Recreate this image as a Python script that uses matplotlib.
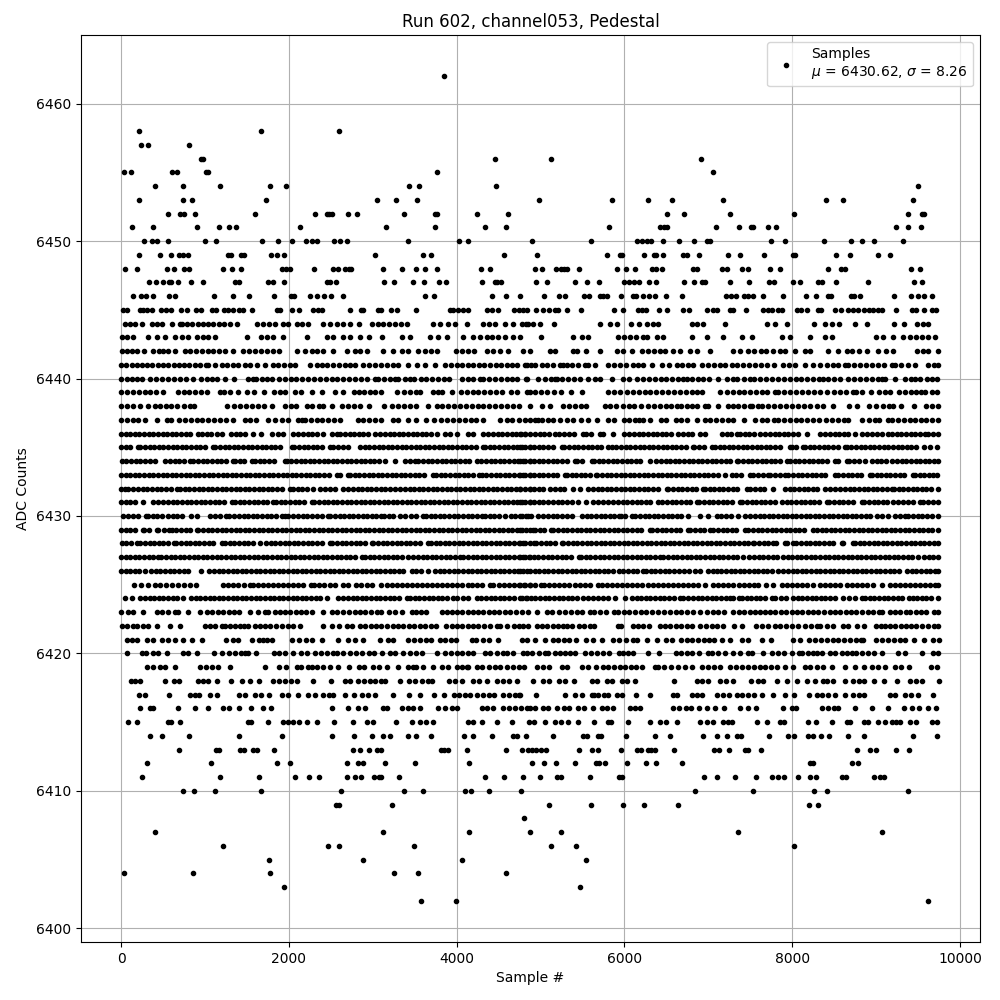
import matplotlib
matplotlib.use('Agg')
import matplotlib.pyplot as plt

# Sample numbers, one list per ADC level
s6402 = [3580, 3997, 9623]
s6403 = [1947, 5475]
s6404 = [40, 862, 1780, 3258, 3544, 4593]
s6405 = [1768, 2889, 4069, 5547]
s6406 = [1220, 2472, 2603, 3497, 5129, 5427, 8026]
s6407 = [410, 3127, 4152, 4879, 5249, 7359, 9075]
s6408 = [4808]
s6409 = [2567, 2603, 3234, 5106, 5606, 5988, 6238, 6643, 8204, 8312]
s6410 = [743, 874, 1125, 1673, 2627, 3377, 3604, 4104, 4176, 4390, 4768, 6846, 7537, 8264, 8419, 9385]
s6411 = [255, 1184, 1649, 2078, 2245, 2364, 2698, 2793, 2865, 3020, 3079, 3103, 3318, 4343, 4569, 4788, 4998, 5201,
         5249, 5594, 5940, 5976, 6953, 7108, 7323, 7573, 7764, 7835, 7907, 8074, 8216, 8288, 8598, 8646, 8979, 9051, 9099]
s6412 = [314, 1077, 1864, 2019, 2698, 2829, 2889, 3151, 3508, 4152, 4903, 5046, 5189, 5415, 5666, 5702, 5773, 6035,
         6262, 6381, 6691, 8216, 8252, 8717, 8789]
s6413 = [696, 1137, 1172, 1423, 1470, 1578, 1625, 1828, 2769, 2853, 2960, 3056, 3103, 3818, 3854, 3902, 4128, 4593,
         4776, 4855, 4903, 4951, 5010, 5070, 5463, 5618, 5690, 5964, 6154, 6202, 6286, 6321, 6369, 6596, 7072, 7128,
         7251, 7442, 7477, 7632, 8777, 8932, 9003, 9241, 9396]
s6414 = [350, 493, 815, 1411, 1923, 2519, 2781, 2996, 3127, 3210, 3425, 3520, 3699, 4092, 4200, 4426, 4676, 4724,
         4831, 5153, 5511, 5559, 5690, 5725, 6023, 6369, 6548, 6941, 7108, 7227, 7347, 7394, 7728, 7955, 8026, 8193,
         8252, 8348, 8443, 8670, 8860, 9444, 9730]
s6415 = [88, 195, 564, 592, 708, 1518, 1554, 1756, 1935, 1995, 2054, 2126, 2221, 2340, 2543, 2769, 2936, 3008, 3282,
         3473, 3568, 3640, 3723, 4140, 4200, 4307, 4486, 4665, 4867, 4927, 5058, 5177, 5249, 5332, 5451, 5642, 5809,
         5845, 6047, 6309, 6429, 6500, 6631, 6905, 6989, 7060, 7180, 7239, 7287, 7585, 7704, 7859, 7907, 8193, 8288,
         8479, 8657, 8693, 8860, 8908, 9027, 9110, 9194, 9241, 9289, 9408, 9480, 9670, 9730]
s6416 = [231, 346, 386, 684, 886, 1040, 1220, 1290, 1411, 1554, 1689, 1792, 2519, 2710, 2829, 2913, 3127, 3175,
         3345, 3415, 3485, 3564, 3783, 3860, 3940, 4000, 4299, 4359, 4438, 4558, 4628, 4698, 4768, 4838, 4875, 4939,
         5034, 5094, 5193, 5285, 5345, 5451, 5521, 5630, 5737, 5797, 5860, 6067, 6126, 6186, 6584, 6655, 6735,
         6790, 6893, 6981, 7080, 7190, 7378, 7477, 7573, 7895, 7994, 8041, 8352, 8430, 8500, 8550, 8753, 8956,
         9146, 9337, 9425, 9515, 9623, 9715]
s6417 = [219, 290, 576, 823, 880, 934, 1061, 1141, 1411, 1480, 1597, 1673, 1768, 1923, 1985, 2114, 2233, 2312, 2412,
         2480, 2531, 2674, 2781, 2869, 2940, 3028, 3246, 3437, 3568, 3735, 3854, 3963, 4030, 4100, 4165, 4240, 4319,
         4390, 4446, 4557, 4620, 4690, 4738, 4756, 4951, 5296, 5412, 5490, 5610, 5640, 5690, 5760, 5810, 5908, 5968,
         6143, 6310, 6583, 6631, 6802, 6860, 6929, 7100, 7172, 7250, 7338, 7398, 7470, 7550, 7636, 7775, 7908, 8026,
         8204, 8292, 8360, 8430, 8510, 8634, 8729, 8800, 8850, 9166, 9226, 9345, 9416, 9504, 9680]
s6418 = [115, 170, 225, 525, 632, 695, 922, 980, 1041, 1141, 1307, 1446, 1538, 1649, 1816, 1880, 1950, 2020, 2094,
         2293, 2499, 2670, 2730, 2829, 2900, 2970, 3030, 3100, 3147, 3326, 3437, 3504, 3584, 3660, 3703, 3905, 3975,
         4061, 4200, 4270, 4359, 4479, 4550, 4625, 4716, 4907, 5034, 5106, 5225, 5295, 5400, 5610, 5675, 5790, 5849,
         5968, 6027, 6123, 6596, 6870, 6930, 7000, 7140, 7210, 7291, 7505, 7590, 7656, 7823, 7934, 8062, 8173, 8272,
         8372, 8411, 8491, 8630, 8730, 8800, 8850, 8975, 9098, 9246, 9405, 9470, 9550, 9745]
s6419 = [306, 386, 465, 520, 644, 942, 1010, 1080, 1150, 1300, 1717, 1888, 1967, 2094, 2150, 2233, 2273, 2340, 2410,
         2491, 2591, 2722, 2841, 2900, 3000, 3070, 3175, 3306, 3415, 3480, 3510, 3604, 3723, 3820, 3900,
         4000, 4060, 4120, 4140, 4240, 4300, 4390, 4458, 4520, 4600, 4670, 4740, 4800, 4955, 5030, 5100, 5252,
         5312, 5491, 5571, 5662, 5741, 5809, 5880, 5950, 6010, 6080, 6140, 6206, 6366, 6400, 6470, 6552, 6643, 6720,
         6802, 6921, 7000, 7070, 7140, 7260, 7330, 7400, 7470, 7540, 7610, 7680, 7750, 7815, 7914, 8006, 8153, 8212,
         8296, 8364, 8471, 8630, 8749, 8860, 8950, 9027, 9106, 9226, 9300, 9390, 9650, 9728]
s6420 = [76, 247, 298, 385, 445, 545, 743, 800, 902, 1113, 1208, 1292, 1360, 1430, 1478, 1518, 1606, 1824, 1888, 1955,
         2054, 2150, 2213, 2312, 2380, 2452, 2523, 2579, 2650, 2730, 2801, 2869, 2950, 3020, 3106, 3200, 3270, 3355,
         3445, 3520, 3584, 3763, 3863, 3930, 4000, 4070, 4140, 4200, 4340, 4400, 4479, 4550, 4600, 4670, 4796,
         4835, 4895, 4985, 5054, 5094, 5173, 5233, 5293, 5355, 5412, 5531, 5600, 5670, 5750, 5820, 5940,
         5988, 6047, 6107, 6282, 6417, 6615, 6680, 6743, 6802, 6893, 6993, 7040, 7120, 7200, 7300, 7380, 7470,
         7518, 7656, 7755, 7830, 7900, 8000, 8078, 8116, 8190, 8252, 8300, 8360, 8450, 8510, 8590, 8650, 8710, 8760,
         8830, 8905, 8980, 9070, 9266, 9345, 9545, 9683, 9740]
s6421 = [68, 130, 187, 306, 385, 485, 564, 644, 743, 842, 962, 1252, 1330, 1397, 1558, 1640, 1697, 1737, 1796, 2035,
         2122, 2200, 2273, 2392, 2591, 2710, 2789, 2889, 3088, 3187, 3246, 3425, 3495, 3565, 3640, 3700, 3800, 3860,
         3930, 3993, 4180, 4230, 4319, 4389, 4488, 4775, 4835, 4930, 5054, 5145, 5210, 5275, 5340, 5424, 5543,
         5620, 5730, 5868, 5940, 6020, 6107, 6154, 6266, 6393, 6500, 6564, 6671, 6740, 6810, 6880, 6950, 7010, 7070,
         7160, 7259, 7398, 7478, 7645, 7743, 8006, 8094, 8205, 8270, 8340, 8410, 8480, 8550, 8620, 8690, 8760, 8820,
         8849, 8999, 9070, 9140, 9210, 9290, 9350, 9455, 9575, 9683, 9745]
s6422 = [8, 70, 147, 187, 260, 325, 425, 584, 703, 1001, 1061, 1121, 1200, 1240, 1300, 1360, 1420,
         1468, 1518, 1598, 1660, 1720, 1780, 1850, 1920, 1990, 2050, 2134, 2404, 2511, 2603, 2690, 2750, 2849, 2910,
         2980, 3040, 3100, 3170, 3240, 3300, 3360, 3430, 3490, 3560, 3620, 3690, 3750, 3874, 3950, 4010, 4070,
         4140, 4200, 4260, 4330, 4400, 4480, 4514, 4606, 4680, 4740, 4790, 4855, 4955, 5015, 5080,
         5145, 5210, 5265, 5320, 5380, 5462, 5520, 5590, 5640, 5920, 5960, 6100, 6166, 6224, 6290, 6425, 6480, 6540,
         6610, 6670, 6740, 6810, 6901, 6970, 7040, 7100, 7180, 7311, 7404, 7570, 7640, 7710, 7790, 7860, 7930, 8000,
         8070, 8150, 8220, 8290, 8332, 8419, 8491, 8610, 8670, 8770, 8850, 9000, 9060, 9110, 9170, 9230, 9300,
         9360, 9420, 9480, 9550, 9620, 9690, 9740]
s6423 = [0, 88, 147, 267, 426, 485, 564, 644, 684, 803, 942, 1020, 1090, 1150, 1220, 1290, 1350, 1408, 1538, 1630,
         1715, 1757, 1830, 1890, 1950, 2010, 2080, 2140, 2200, 2280, 2410, 2520, 2580, 2650, 2720, 2790, 2850, 2910,
         2980, 3050, 3100, 3190, 3266, 3345, 3465, 3520, 3580, 3640, 3824, 3890, 3950, 4010, 4070, 4130, 4200, 4260,
         4320, 4385, 4450, 4510, 4580, 4640, 4710, 4780, 4850, 4960, 5074, 5140, 5215, 5290, 5360,
         5430, 5500, 5590, 5640, 5710, 5780, 5880, 5920, 5990, 6060, 6130, 6200, 6260, 6330, 6400, 6470, 6540, 6610,
         6680, 6750, 6820, 6900, 6990, 7060, 7120, 7190, 7299, 7360, 7430, 7500, 7560, 7620, 7680, 7740, 7800, 7870,
         7930, 7995, 8060, 8120, 8190, 8250, 8310, 8380, 8450, 8510, 8570, 8640, 8700, 8760, 8830, 8900, 8960, 9030,
         9070, 9165, 9220, 9290, 9360, 9400, 9476, 9540, 9600, 9690, 9740]
s6424 = [48, 135, 227, 285, 340, 395, 450, 505, 560, 615, 670, 743, 835, 890, 945, 1000, 1055, 1110, 1165, 1220, 1275,
         1330, 1385, 1440, 1495, 1550, 1605, 1660, 1715, 1770, 1825, 1880, 1935, 1990, 2045, 2100, 2155, 2210, 2265,
         2320, 2375, 2452, 2591, 2650, 2705, 2760, 2815, 2870, 2925, 2980, 3035, 3090, 3145, 3200, 3255, 3310, 3405,
         3445, 3500, 3555, 3610, 3665, 3720, 3775, 3830, 3885, 3961, 4009, 4075, 4140, 4240, 4295, 4350, 4405, 4460,
         4515, 4570, 4625, 4680, 4776, 4835, 4756, 4828, 4885, 4940, 4995, 5050, 5105, 5160, 5215, 5270, 5325, 5380,
         5435, 5511, 5570, 5630, 5690, 5750, 5809, 5888, 6007, 6087, 6145, 6200, 6255, 6310, 6365, 6420, 6475, 6530,
         6585, 6663, 6703, 6762, 6820, 6875, 6930, 6985, 7040, 7095, 7150, 7205, 7259, 7299, 7370, 7398, 7455, 7510,
         7565, 7620, 7675, 7756, 7795, 7863, 7930, 8014, 8065, 8120, 8175, 8230, 8285, 8340, 8395, 8450, 8505, 8610,
         8681, 8750, 8828, 8868, 8925, 8980, 9035, 9090, 9145, 9200, 9255, 9310, 9396, 9436, 9490, 9545, 9600, 9655,
         9740]
s6425 = [159, 240, 318, 405, 470, 535, 604, 684, 750, 823, 894, 1220, 1280, 1340, 1400, 1460, 1538, 1570, 1630, 1690,
         1750, 1810, 1870, 1930, 1990, 2050, 2110, 2170, 2261, 2305, 2365, 2425, 2485, 2545, 2650, 2710, 2801, 2860,
         2928, 2988, 3095, 3167, 3225, 3285, 3345, 3405, 3465, 3525, 3585, 3645, 3705, 3765, 3825, 3885, 3945, 4005,
         4065, 4140, 4180, 4240, 4300, 4398, 4438, 4500, 4560, 4620, 4680, 4740, 4800, 4875, 4756, 4820, 4880, 4940,
         5002, 5046, 5105, 5165, 5225, 5285, 5345, 5405, 5465, 5525, 5585, 5682, 5737, 5795, 5855, 5915, 5975, 6035,
         6095, 6155, 6215, 6275, 6335, 6395, 6455, 6515, 6575, 6635, 6695, 6755, 6815, 6875, 6961, 7060, 7120, 7180,
         7240, 7300, 7360, 7420, 7480, 7540, 7589, 7688, 7775, 7875, 7935, 7994, 8054, 8115, 8175, 8252, 8332, 8391,
         8450, 8510, 8570, 8657, 8717, 8775, 8835, 8895, 8959, 9067, 9166, 9225, 9285, 9345, 9405, 9465, 9525, 9583,
         9643, 9700, 9740]
s6426 = [0, 55, 110, 165, 220, 286, 358, 415, 470, 525, 580, 635, 690, 745, 803, 950, 1053, 1110, 1165, 1220, 1275,
         1330, 1385, 1440, 1495, 1550, 1605, 1660, 1715, 1770, 1825, 1880, 1935, 1990, 2045, 2100, 2155, 2210, 2265,
         2320, 2375, 2430, 2485, 2540, 2595, 2650, 2705, 2760, 2815, 2870, 2925, 2980, 3035, 3090, 3145, 3200, 3255,
         3310, 3365, 3465, 3516, 3580, 3663, 3743, 3800, 3855, 3910, 3965, 4020, 4075, 4130, 4185, 4240, 4295, 4350,
         4405, 4460, 4515, 4570, 4625, 4680, 4735, 4790, 4875, 4756, 4843, 4930, 4985, 5040, 5095, 5150, 5205, 5260,
         5315, 5370, 5425, 5480, 5535, 5590, 5645, 5700, 5755, 5810, 5865, 5940, 5988, 6045, 6100, 6155, 6226, 6258,
         6315, 6370, 6425, 6480, 6535, 6590, 6645, 6711, 6770, 6842, 6900, 6993, 7052, 7100, 7155, 7210, 7265, 7320,
         7375, 7430, 7485, 7540, 7595, 7650, 7705, 7760, 7827, 7895, 7950, 8005, 8060, 8115, 8170, 8225, 8280, 8335,
         8390, 8445, 8500, 8555, 8610, 8665, 8720, 8775, 8830, 8885, 8940, 8995, 9050, 9105, 9160, 9215, 9270, 9365,
         9424, 9480, 9535, 9590, 9645, 9700, 9740]
s6427 = [0, 55, 110, 165, 220, 275, 330, 385, 445, 477, 535, 590, 645, 700, 755, 810, 865, 920, 975, 1030, 1085, 1140,
         1195, 1250, 1305, 1360, 1415, 1470, 1525, 1580, 1635, 1690, 1745, 1800, 1855, 1910, 1965, 2020, 2075, 2130,
         2185, 2240, 2295, 2350, 2405, 2460, 2515, 2570, 2625, 2680, 2735, 2790, 2869, 2909, 2965, 3020, 3075, 3130,
         3185, 3240, 3295, 3350, 3425, 3485, 3540, 3595, 3650, 3705, 3760, 3815, 3870, 3925, 3980, 4041, 4081, 4135,
         4190, 4245, 4300, 4355, 4410, 4465, 4520, 4575, 4630, 4685, 4740, 4795, 4875, 4756, 4810, 4865, 4920, 4975,
         5030, 5085, 5140, 5195, 5250, 5305, 5360, 5463, 5483, 5540, 5595, 5650, 5705, 5760, 5815, 5870, 5925, 5980,
         6035, 6090, 6145, 6200, 6255, 6310, 6365, 6425, 6464, 6520, 6575, 6630, 6685, 6740, 6795, 6850, 6905, 6960,
         7015, 7070, 7125, 7180, 7235, 7290, 7345, 7418, 7489, 7545, 7600, 7655, 7710, 7765, 7820, 7895, 7946, 8000,
         8055, 8110, 8165, 8220, 8275, 8330, 8385, 8440, 8495, 8550, 8605, 8660, 8715, 8770, 8825, 8880, 8935, 8990,
         9045, 9100, 9155, 9210, 9265, 9320, 9375, 9430, 9504, 9571, 9625, 9680, 9740]
s6428 = [8, 65, 120, 187, 227, 285, 340, 395, 450, 505, 560, 632, 656, 715, 770, 825, 880, 934, 990, 1045, 1100, 1200,
         1240, 1295, 1350, 1405, 1460, 1515, 1570, 1657, 1729, 1785, 1840, 1895, 1950, 2005, 2060, 2115, 2170, 2225,
         2280, 2335, 2390, 2491, 2519, 2575, 2630, 2685, 2740, 2795, 2850, 2905, 2988, 3008, 3065, 3120, 3175, 3230,
         3285, 3340, 3395, 3450, 3505, 3560, 3663, 3695, 3750, 3805, 3860, 3915, 3970, 4025, 4080, 4135, 4190, 4245,
         4300, 4355, 4410, 4465, 4520, 4575, 4630, 4685, 4740, 4795, 4875, 4756, 4815, 4923, 4947, 5005, 5060, 5115,
         5170, 5253, 5272, 5330, 5385, 5440, 5495, 5550, 5605, 5660, 5715, 5770, 5825, 5880, 5935, 5990, 6045, 6100,
         6155, 6210, 6265, 6320, 6375, 6430, 6485, 6540, 6595, 6650, 6705, 6760, 6815, 6870, 6925, 6980, 7035, 7090,
         7145, 7200, 7255, 7310, 7365, 7420, 7475, 7537, 7549, 7605, 7660, 7715, 7775, 7807, 7915, 7934, 8014, 8046,
         8105, 8160, 8215, 8270, 8325, 8380, 8435, 8490, 8590, 8610, 8721, 8749, 8805, 8860, 8915, 8970, 9025, 9080,
         9135, 9190, 9245, 9300, 9355, 9410, 9465, 9520, 9575, 9630, 9685, 9740]
s6429 = [0, 55, 110, 165, 259, 278, 335, 425, 445, 510, 576, 604, 660, 715, 770, 825, 902, 922, 980, 1035, 1090, 1145,
         1200, 1255, 1310, 1365, 1420, 1475, 1530, 1585, 1640, 1695, 1750, 1805, 1860, 1915, 1970, 2025, 2080, 2135,
         2190, 2245, 2300, 2355, 2410, 2465, 2520, 2575, 2630, 2685, 2740, 2795, 2850, 2905, 2960, 3015, 3070, 3125,
         3180, 3235, 3290, 3345, 3400, 3455, 3510, 3565, 3620, 3675, 3730, 3785, 3840, 3895, 3950, 4005, 4060, 4115,
         4170, 4225, 4280, 4335, 4390, 4445, 4500, 4555, 4610, 4665, 4720, 4775, 4875, 4756, 4830, 4915, 4935, 4990,
         5045, 5121, 5153, 5210, 5265, 5320, 5375, 5430, 5485, 5540, 5595, 5650, 5705, 5760, 5815, 5870, 5925, 5980,
         6035, 6090, 6145, 6200, 6305, 6333, 6390, 6445, 6500, 6555, 6610, 6665, 6762, 6782, 6840, 6895, 6950, 7021,
         7060, 7115, 7170, 7225, 7280, 7335, 7438, 7477, 7535, 7590, 7645, 7700, 7755, 7810, 7865, 7920, 7975, 8030,
         8085, 8140, 8252, 8292, 8350, 8405, 8460, 8515, 8570, 8625, 8680, 8735, 8790, 8845, 8900, 8955, 9010, 9065,
         9120, 9175, 9230, 9285, 9340, 9395, 9450, 9505, 9560, 9615, 9670, 9740]
s6430 = [28, 85, 140, 200, 298, 326, 380, 425, 485, 564, 616, 670, 723, 831, 902, 1061, 1120, 1180, 1252, 1292, 1350,
         1405, 1460, 1515, 1570, 1625, 1680, 1735, 1790, 1845, 1915, 1955, 1995, 2050, 2105, 2174, 2221, 2280, 2335,
         2390, 2464, 2491, 2550, 2605, 2660, 2715, 2770, 2825, 2880, 2935, 2990, 3045, 3099, 3135, 3190, 3245, 3326,
         3385, 3453, 3510, 3596, 3636, 3690, 3745, 3800, 3855, 3910, 3965, 4020, 4075, 4130, 4185, 4240, 4299, 4339,
         4395, 4450, 4505, 4577, 4645, 4700, 4776, 4855, 4756, 4828, 4885, 4975, 5034, 5090, 5145, 5200, 5255, 5310,
         5372, 5491, 5550, 5605, 5660, 5715, 5770, 5825, 5880, 5936, 5956, 6010, 6087, 6127, 6185, 6240, 6295, 6350,
         6405, 6460, 6515, 6570, 6625, 6680, 6762, 6901, 7001, 7100, 7155, 7210, 7265, 7358, 7438, 7497, 7555, 7610,
         7665, 7720, 7775, 7830, 7885, 7940, 7995, 8050, 8105, 8160, 8215, 8270, 8325, 8380, 8435, 8490, 8545, 8600,
         8655, 8710, 8765, 8820, 8875, 8930, 9007, 9067, 9146, 9226, 9285, 9345, 9385, 9440, 9495, 9550, 9605, 9660,
         9740]
s6431 = [0, 55, 110, 165, 266, 386, 445, 500, 555, 624, 672, 730, 785, 840, 895, 950, 1005, 1060, 1115, 1170, 1225,
         1319, 1359, 1415, 1470, 1525, 1580, 1635, 1690, 1745, 1816, 1848, 1905, 1960, 2015, 2070, 2125, 2180, 2273,
         2305, 2360, 2415, 2470, 2525, 2580, 2635, 2690, 2745, 2800, 2855, 2910, 2965, 3020, 3075, 3130, 3185, 3240,
         3295, 3350, 3405, 3460, 3515, 3570, 3625, 3680, 3735, 3790, 3845, 3900, 3955, 4010, 4065, 4120, 4175, 4230,
         4285, 4340, 4395, 4450, 4505, 4560, 4615, 4670, 4725, 4780, 4875, 4756, 4815, 4870, 4925, 4980, 5035, 5090,
         5145, 5213, 5261, 5320, 5375, 5451, 5543, 5630, 5690, 5745, 5809, 5868, 5925, 5980, 6035, 6090, 6145, 6200,
         6255, 6310, 6405, 6453, 6510, 6565, 6620, 6675, 6730, 6785, 6862, 6893, 6950, 7005, 7060, 7115, 7170, 7225,
         7280, 7378, 7406, 7460, 7515, 7570, 7625, 7680, 7735, 7790, 7875, 7934, 7990, 8045, 8100, 8155, 8210, 8265,
         8320, 8411, 8443, 8500, 8555, 8610, 8665, 8720, 8828, 8860, 8915, 8970, 9025, 9080, 9135, 9206, 9266, 9325,
         9380, 9435, 9524, 9563, 9620, 9675, 9740]
s6432 = [0, 48, 88, 147, 205, 260, 315, 370, 425, 480, 535, 590, 664, 703, 760, 815, 870, 925, 980, 1035, 1090, 1145,
         1200, 1255, 1310, 1365, 1420, 1475, 1530, 1585, 1640, 1695, 1750, 1805, 1860, 1915, 2015, 2046, 2105, 2160,
         2215, 2293, 2372, 2432, 2490, 2545, 2650, 2710, 2765, 2820, 2875, 2930, 2985, 3040, 3095, 3150, 3205, 3260,
         3326, 3385, 3440, 3495, 3550, 3605, 3660, 3715, 3770, 3825, 3880, 3935, 3990, 4045, 4100, 4155, 4210, 4265,
         4320, 4375, 4430, 4485, 4540, 4595, 4650, 4705, 4760, 4875, 4756, 4815, 4870, 4925, 4980, 5035, 5114, 5173,
         5230, 5285, 5392, 5471, 5570, 5625, 5680, 5735, 5790, 5845, 5900, 5955, 6010, 6065, 6120, 6175, 6230, 6285,
         6340, 6395, 6504, 6524, 6580, 6635, 6690, 6745, 6800, 6855, 6941, 6961, 7015, 7070, 7125, 7180, 7235, 7290,
         7345, 7458, 7497, 7555, 7610, 7665, 7775, 7915, 7970, 8025, 8080, 8135, 8190, 8245, 8300, 8391, 8451, 8510,
         8570, 8630, 8685, 8740, 8795, 8850, 8905, 8960, 9015, 9070, 9125, 9186, 9214, 9270, 9325, 9380, 9435, 9490,
         9545, 9600, 9655, 9740]
s6433 = [0, 55, 110, 165, 220, 275, 330, 385, 440, 495, 550, 605, 660, 715, 770, 825, 880, 935, 990, 1045, 1100, 1155,
         1210, 1265, 1320, 1375, 1430, 1485, 1540, 1595, 1650, 1705, 1760, 1815, 1870, 1925, 1980, 2035, 2090, 2145,
         2200, 2255, 2310, 2365, 2420, 2475, 2571, 2611, 2710, 2730, 2785, 2840, 2895, 2950, 3005, 3060, 3115, 3170,
         3225, 3280, 3335, 3390, 3445, 3500, 3555, 3610, 3723, 3755, 3810, 3865, 3920, 3975, 4030, 4085, 4140, 4195,
         4271, 4299, 4355, 4410, 4465, 4520, 4575, 4630, 4685, 4740, 4795, 4875, 4756, 4815, 4870, 4925, 4980, 5035,
         5090, 5145, 5200, 5292, 5312, 5370, 5425, 5480, 5535, 5590, 5662, 5678, 5735, 5790, 5845, 5900, 5955, 6010,
         6065, 6120, 6175, 6230, 6285, 6340, 6395, 6450, 6505, 6560, 6615, 6670, 6725, 6780, 6835, 6890, 6945, 7000,
         7055, 7110, 7199, 7279, 7335, 7390, 7497, 7537, 7595, 7650, 7716, 7736, 7795, 7850, 7915, 7954, 8010, 8065,
         8120, 8175, 8230, 8285, 8340, 8395, 8510, 8550, 8605, 8660, 8715, 8770, 8825, 8928, 8948, 9005, 9060, 9115,
         9170, 9225, 9280, 9335, 9436, 9464, 9520, 9575, 9630, 9683, 9722]
s6434 = [8, 65, 120, 175, 230, 285, 340, 406, 525, 585, 640, 695, 750, 823, 862, 920, 975, 1030, 1085, 1140, 1195,
         1250, 1339, 1359, 1415, 1470, 1558, 1597, 1655, 1710, 1765, 1820, 1955, 1975, 2030, 2085, 2140, 2195, 2250,
         2305, 2360, 2415, 2470, 2525, 2580, 2635, 2690, 2745, 2800, 2855, 2910, 2965, 3020, 3075, 3147, 3266, 3385,
         3445, 3504, 3544, 3600, 3655, 3710, 3765, 3820, 3875, 3930, 3985, 4040, 4095, 4150, 4240, 4291, 4350, 4405,
         4460, 4515, 4570, 4625, 4680, 4735, 4790, 4875, 4756, 4815, 4870, 4925, 4980, 5035, 5090, 5145, 5200, 5255,
         5310, 5412, 5439, 5495, 5610, 5638, 5695, 5750, 5805, 5860, 5915, 5970, 6025, 6080, 6135, 6190, 6305, 6377,
         6435, 6490, 6545, 6600, 6655, 6710, 6765, 6820, 6875, 6930, 6985, 7040, 7095, 7150, 7205, 7260, 7339, 7358,
         7415, 7470, 7525, 7580, 7635, 7690, 7745, 7800, 7855, 7934, 7974, 8030, 8085, 8140, 8195, 8250, 8305, 8360,
         8415, 8510, 8550, 8650, 8681, 8740, 8795, 8868, 8948, 9005, 9060, 9115, 9186, 9245, 9305, 9360, 9415, 9470,
         9525, 9580, 9635, 9690, 9742]
s6435 = [0, 55, 110, 207, 227, 285, 340, 395, 450, 505, 560, 615, 670, 725, 780, 835, 890, 945, 1000, 1101, 1121, 1180,
         1235, 1290, 1345, 1400, 1455, 1510, 1565, 1620, 1675, 1730, 1785, 1840, 1895, 2034, 2062, 2120, 2175, 2230,
         2285, 2340, 2395, 2491, 2531, 2590, 2645, 2700, 2849, 2909, 2960, 3015, 3070, 3125, 3180, 3235, 3290, 3345,
         3400, 3455, 3510, 3565, 3620, 3675, 3730, 3785, 3840, 3895, 3950, 4005, 4060, 4115, 4170, 4225, 4319, 4339,
         4395, 4450, 4505, 4560, 4615, 4670, 4725, 4780, 4875, 4756, 4815, 4870, 4925, 4980, 5035, 5090, 5145, 5253,
         5284, 5340, 5395, 5450, 5505, 5560, 5615, 5670, 5725, 5809, 5849, 5905, 5960, 6015, 6070, 6125, 6180, 6235,
         6290, 6345, 6400, 6455, 6510, 6565, 6620, 6675, 6730, 6822, 6834, 6890, 6945, 7040, 7080, 7135, 7190, 7245,
         7300, 7355, 7410, 7465, 7520, 7575, 7630, 7685, 7740, 7795, 7850, 7974, 7994, 8050, 8133, 8153, 8210, 8265,
         8320, 8375, 8430, 8485, 8540, 8630, 8650, 8705, 8760, 8815, 8870, 8925, 8980, 9035, 9090, 9145, 9200, 9255,
         9310, 9365, 9420, 9475, 9571, 9643, 9722]
s6436 = [0, 55, 110, 165, 220, 275, 330, 385, 440, 495, 550, 605, 660, 715, 770, 825, 922, 962, 1020, 1075, 1141, 1200,
         1307, 1365, 1420, 1475, 1578, 1665, 1804, 1876, 1935, 2054, 2114, 2170, 2225, 2280, 2335, 2412, 2511, 2571,
         2611, 2670, 2725, 2780, 2835, 2890, 2945, 3028, 3087, 3145, 3200, 3255, 3310, 3365, 3420, 3475, 3530, 3585,
         3640, 3695, 3763, 3862, 3920, 4001, 4140, 4200, 4319, 4378, 4435, 4490, 4545, 4600, 4655, 4710, 4765, 4820,
         4875, 4756, 4816, 4935, 4990, 5045, 5100, 5173, 5225, 5285, 5340, 5395, 5503, 5543, 5600, 5710, 5749, 5868,
         6000, 6060, 6115, 6170, 6225, 6280, 6335, 6390, 6445, 6500, 6555, 6643, 6695, 6755, 6810, 6901, 6961, 7160,
         7220, 7275, 7338, 7378, 7435, 7490, 7545, 7617, 7676, 7735, 7790, 7845, 7900, 7955, 8010, 8065, 8173, 8332,
         8391, 8450, 8505, 8560, 8615, 8670, 8749, 8828, 8896, 8955, 9010, 9065, 9146, 9186, 9245, 9300, 9355, 9410,
         9465, 9520, 9583, 9623, 9680, 9740]
s6437 = [0, 70, 140, 200, 285, 425, 545, 595, 690, 760, 830, 900, 970, 1040, 1110, 1180, 1250, 1330, 1480, 1540, 1610,
         1750, 1830, 1915, 1995, 2110, 2160, 2190, 2260, 2330, 2400, 2470, 2540, 2610, 2830, 2890, 2960, 3030, 3100,
         3245, 3300, 3425, 3510, 3640, 3725, 3815, 3890, 3960, 4030, 4100, 4170, 4230, 4320, 4520, 4600, 4660, 4740,
         4820, 4875, 4935, 4975, 5014, 5093, 5153, 5232, 5312, 5392, 5488, 5570, 5670, 5810, 5880, 5990,
         6050, 6130, 6176, 6226, 6305, 6430, 6500, 6620, 6680, 6750, 6870, 6960, 7020, 7090, 7160, 7230, 7300,
         7420, 7560, 7640, 7700, 7780, 7830, 7900, 7970, 8040, 8110, 8180, 8250, 8320, 8400, 8470, 8540, 8620, 8660,
         8830, 8910, 8990, 9030, 9140, 9190, 9260, 9330, 9405, 9460, 9530, 9590, 9660, 9740]
s6438 = [0, 70, 140, 226, 327, 400, 470, 540, 600, 670, 750, 820, 870, 1260, 1351, 1420, 1490, 1560, 1630, 1700, 1796,
         1950, 2020, 2090, 2214, 2280, 2360, 2404, 2519, 2630, 2710, 2780, 2850, 2960, 3140, 3225, 3300, 3370, 3440,
         3510, 3660, 3764, 3830, 3900, 3970, 4040, 4110, 4180, 4250, 4320, 4390, 4460, 4530, 4600, 4670, 4740, 4875,
         5014, 5113, 5264, 5340, 5410, 5480, 5540, 5770, 5830, 5900, 5980, 6050, 6120, 6200, 6280, 6350,
         6420, 6490, 6560, 6630, 6680, 6740, 6810, 6870, 6960, 7000, 7110, 7230, 7290, 7350, 7431, 7500,
         7520, 7590, 7640, 7710, 7780, 7850, 7930, 8000, 8070, 8140, 8210, 8290, 8370, 8490, 8680, 8770, 8910,
         9000, 9080, 9150, 9201, 9300, 9450, 9590, 9660, 9737]
s6439 = [0, 70, 140, 210, 280, 340, 420, 500, 680, 750, 810, 880, 950, 1020, 1180, 1230, 1300, 1400, 1500, 1580, 1700,
         1820, 1900, 1960, 2074, 2150, 2280, 2400, 2550, 2650, 2780, 2840, 2900, 2970, 3030, 3100,
         3290, 3370, 3440, 3510, 3565, 3720, 3780, 3830, 3950, 4050, 4120, 4190, 4260, 4330, 4400, 4470, 4540, 4650,
         4725, 4835, 4875, 4930, 5000, 5080, 5160, 5240, 5360, 5490, 5810, 5880, 5950, 6030, 6100, 6170,
         6240, 6310, 6380, 6450, 6520, 6590, 6660, 6730, 6800, 6870, 6930, 7140, 7220, 7290, 7360, 7430, 7500, 7570,
         7640, 7700, 7790, 7830, 7900, 7970, 8050, 8120, 8190, 8260, 8330, 8420, 8500, 8570, 8640, 8720, 8760, 8830,
         8940, 9030, 9100, 9170, 9270, 9340, 9410, 9480, 9530, 9585, 9670, 9720]
s6440 = [0, 70, 130, 190, 250, 350, 420, 490, 560, 630, 700, 770, 862, 950, 1020, 1090, 1140, 1240, 1351, 1518, 1578,
         1609, 1680, 1740, 1796, 1880, 1950, 2020, 2090, 2160, 2230, 2300, 2370, 2440, 2510, 2580, 2650, 2720, 2790,
         2860, 2930, 3028, 3067, 3140, 3200, 3266, 3306, 3380, 3445, 3493, 3570, 3640, 3710, 3780, 3850, 3914, 4061,
         4130, 4200, 4279, 4319, 4390, 4460, 4530, 4600, 4665, 4716, 4835, 4828, 4975, 5054, 5120, 5173, 5193, 5260,
         5330, 5400, 5470, 5570, 5650, 5710, 5849, 5988, 6060, 6147, 6218, 6290, 6360, 6430, 6500, 6570, 6640, 6703,
         6743, 6810, 6882, 6941, 7010, 7120, 7219, 7299, 7338, 7420, 7497, 7549, 7620, 7690, 7760, 7830, 7900, 7970,
         8040, 8110, 8180, 8250, 8320, 8372, 8431, 8500, 8570, 8669, 8741, 8810, 8880, 8950, 9020, 9067, 9106, 9226,
         9345, 9410, 9464, 9524, 9603, 9660, 9722]
s6441 = [0, 60, 125, 185, 250, 315, 375, 440, 505, 565, 630, 690, 755, 815, 880, 945, 1010, 1041, 1121, 1200, 1265,
         1330, 1400, 1478, 1538, 1618, 1717, 1816, 1876, 1945, 2010, 2074, 2253, 2333, 2392, 2460, 2530, 2600, 2670,
         2730, 2789, 2889, 2960, 3030, 3100, 3170, 3240, 3306, 3425, 3524, 3624, 3743, 3862, 3930, 4000, 4065, 4130,
         4200, 4265, 4330, 4400, 4465, 4530, 4600, 4665, 4716, 4835, 4816, 4885, 4935, 5014, 5080, 5150, 5230, 5272,
         5312, 5380, 5450, 5530, 5570, 5650, 5809, 5880, 5950, 6020, 6100, 6166, 6218, 6325, 6445, 6536, 6623, 6690,
         6760, 6821, 6921, 7001, 7070, 7140, 7199, 7279, 7338, 7410, 7480, 7555, 7630, 7700, 7785, 7895, 7960, 8030,
         8153, 8252, 8332, 8411, 8480, 8550, 8630, 8670, 8740, 8810, 8880, 8950, 9020, 9090, 9186, 9226, 9296, 9385,
         9464, 9623, 9692, 9740]
s6442 = [8, 68, 128, 187, 278, 386, 455, 505, 564, 644, 763, 823, 893, 963, 1040, 1100, 1172, 1242, 1339, 1458, 1528,
         1598, 1668, 1738, 1808, 1878, 2102, 2193, 2273, 2332, 2410, 2530, 2690, 2789, 2849, 2929, 3127, 3238, 3345,
         3425, 3544, 3624, 3700, 3763, 3993, 4063, 4133, 4203, 4359, 4429, 4519, 4617, 4796, 4875, 5114, 5173, 5384,
         5439, 5539, 5710, 5908, 5988, 6087, 6206, 6286, 6353, 6425, 6484, 6584, 6664, 6782, 6870, 7021, 7299, 7379,
         7478, 7549, 7625, 7688, 7775, 7855, 7915, 8034, 8153, 8212, 8431, 8550, 8650, 8717, 8800, 8888, 9027, 9117,
         9206, 9484, 9553, 9623, 9742]
s6443 = [8, 75, 147, 326, 425, 525, 644, 724, 803, 902, 972, 1042, 1120, 1498, 1665, 1745, 1815, 1935, 2221, 2452,
         2530, 2650, 2730, 2850, 2960, 3115, 3345, 3445, 3683, 3773, 3882, 4080, 4200, 4280, 4359, 4418, 4498, 4578,
         4668, 4756, 5002, 5384, 5491, 5570, 5928, 5998, 6068, 6138, 6218, 6266, 6385, 6465, 6802, 6989, 7172, 7398,
         7517, 7875, 7975, 8212, 8391, 8471, 8999, 9087, 9198, 9325, 9405, 9475, 9543, 9623, 9702]
s6444 = [48, 108, 167, 247, 366, 425, 485, 604, 703, 723, 783, 842, 922, 982, 1042, 1102, 1162, 1222, 1300, 1379, 1625,
         1695, 1765, 1836, 1935, 1995, 2094, 2154, 2233, 2412, 2491, 2571, 2650, 2730, 2841, 2988, 3067, 3127, 3197,
         3267, 3337, 3405, 3723, 3802, 3902, 3981, 4120, 4319, 4389, 4458, 4577, 4676, 4776, 4855, 4828, 4915, 4994,
         5165, 5710, 5829, 5908, 6079, 6178, 6266, 6335, 6405, 6802, 6870, 6941, 7199, 7696, 7795, 7942, 8260, 8391,
         8471, 8562, 8749, 8896, 9218, 9337, 9484, 9553, 9623]
s6445 = [28, 68, 231, 266, 314, 374, 481, 541, 600, 719, 791, 898, 958, 1089, 1137, 1232, 1280, 1339, 1411, 1458, 1566,
         1864, 1899, 2042, 2126, 2293, 2352, 2400, 2734, 2865, 2889, 3067, 3103, 3222, 3294, 3520, 3922, 3961, 4021,
         4080, 4140, 4367, 4426, 4498, 4688, 4748, 4788, 4843, 4951, 5034, 5106, 5177, 5213, 5320, 5487, 5880, 5988,
         6166, 6214, 6262, 6417, 6512, 6703, 6774, 6989, 7060, 7108, 7263, 7299, 7454, 7656, 7716, 7764, 7835, 7883,
         8062, 8109, 8181, 8312, 8348, 8514, 8586, 8670, 8729, 8789, 8860, 8920, 8967, 9027, 9075, 9241, 9432, 9480,
         9576, 9670, 9718]
s6446 = [147, 243, 302, 386, 576, 648, 1113, 1339, 1530, 1828, 2030, 2066, 2257, 2340, 2424, 2507, 2650, 3628, 3735,
         4426, 4593, 4760, 5046, 5225, 5296, 5523, 5582, 5713, 5749, 5797, 5964, 6107, 6143, 6226, 6298, 6369, 6500,
         6691, 7215, 7275, 7335, 7430, 7477, 7537, 7656, 7895, 8169, 8288, 8431, 8467, 8705, 8741, 8813, 9218, 9420,
         9504, 9576, 9670]
s6447 = [338, 421, 505, 576, 600, 684, 839, 982, 1363, 1411, 1756, 1816, 1947, 2460, 2495, 2567, 3139, 3258, 3485, 3616,
         3794, 3878, 4307, 4462, 4486, 4533, 4951, 5082, 5415, 5559, 5702, 6000, 6059, 6119, 6178, 6298, 6381, 6715,
         6834, 6929, 6965, 7263, 7489, 7728, 7787, 8014, 8097, 8312, 8360, 8526, 8908, 9456, 9552]
s6448 = [52, 195, 553, 636, 755, 815, 1220, 1327, 1435, 1923, 1971, 2019, 2305, 2531, 2591, 2674, 2722, 2746, 3127,
         3354, 3520, 3628, 3771, 4295, 4402, 4939, 5022, 5189, 5249, 5284, 5320, 5463, 5916, 6023, 6131, 6333, 6381,
         6453, 6822, 6870, 7168, 7227, 7406, 7477, 7740, 7859, 8431, 8586, 8634, 9420, 9528]
s6449 = [219, 469, 600, 696, 743, 803, 1280, 1307, 1435, 1470, 1792, 1864, 1947, 3032, 3604, 3699, 4569, 4963, 5797,
         5952, 5976, 6238, 6357, 6381, 6464, 6703, 6750, 6893, 7239, 7382, 7668, 8014, 8038, 8526, 8693, 9027, 9170]
s6450 = [278, 374, 433, 564, 1005, 1137, 1685, 1876, 2042, 2209, 2281, 2340, 2543, 2615, 2698, 3425, 4033, 4140, 4903,
         5606, 6154, 6214, 6274, 6321, 6464, 6655, 6834, 6989, 7025, 7752, 7919, 8383, 8705, 8836, 8979, 9325]
s6451 = [135, 386, 910, 1172, 1292, 1375, 2138, 3163, 3747, 4343, 4593, 5821, 6429, 6476, 6512, 7096, 7370, 7513, 7537,
         7716, 7811, 9234, 9385, 9540]
s6452 = [564, 703, 755, 886, 1601, 2317, 2452, 2476, 2519, 2710, 2817, 3377, 3743, 3763, 4247, 4617, 6512, 6711, 7263,
         8026, 9385, 9552, 9576]
s6453 = [219, 743, 843, 1733, 3056, 3282, 3532, 4986, 5857, 6286, 6564, 7180, 8407, 8610, 9444]
s6454 = [410, 743, 1184, 1780, 1971, 3437, 3556, 4474, 9504]
s6455 = [40, 123, 608, 664, 1013, 1040, 3771, 7060]
s6456 = [950, 974, 4462, 5129, 6917]
s6457 = [243, 326, 815]
s6458 = [218, 1672, 2602]
s6462 = [3854]

levels = {6402: s6402, 6403: s6403, 6404: s6404, 6405: s6405, 6406: s6406, 6407: s6407, 6408: s6408, 6409: s6409,
          6410: s6410, 6411: s6411, 6412: s6412, 6413: s6413, 6414: s6414, 6415: s6415, 6416: s6416, 6417: s6417,
          6418: s6418, 6419: s6419, 6420: s6420, 6421: s6421, 6422: s6422, 6423: s6423, 6424: s6424, 6425: s6425,
          6426: s6426, 6427: s6427, 6428: s6428, 6429: s6429, 6430: s6430, 6431: s6431, 6432: s6432, 6433: s6433,
          6434: s6434, 6435: s6435, 6436: s6436, 6437: s6437, 6438: s6438, 6439: s6439, 6440: s6440, 6441: s6441,
          6442: s6442, 6443: s6443, 6444: s6444, 6445: s6445, 6446: s6446, 6447: s6447, 6448: s6448, 6449: s6449,
          6450: s6450, 6451: s6451, 6452: s6452, 6453: s6453, 6454: s6454, 6455: s6455, 6456: s6456, 6457: s6457,
          6458: s6458, 6462: s6462}

samples = []
counts = []
for level, xs in levels.items():
  samples += xs
  counts += [level] * len(xs)

fig, ax = plt.subplots(figsize=(10, 10))
ax.plot(samples, counts, 'k.', label='Samples\n$\\mu$ = 6430.62, $\\sigma$ = 8.26')
ax.set_title('Run 602, channel053, Pedestal')
ax.set_xlabel('Sample #')
ax.set_ylabel('ADC Counts')
ax.grid(True)
ax.legend(loc='upper right')
ax.set_xlim(-477, 10238)
ax.set_ylim(6399, 6465)
ax.set_position([0.081, 0.058, 0.899, 0.907])
plt.savefig('out.png', dpi=100)
